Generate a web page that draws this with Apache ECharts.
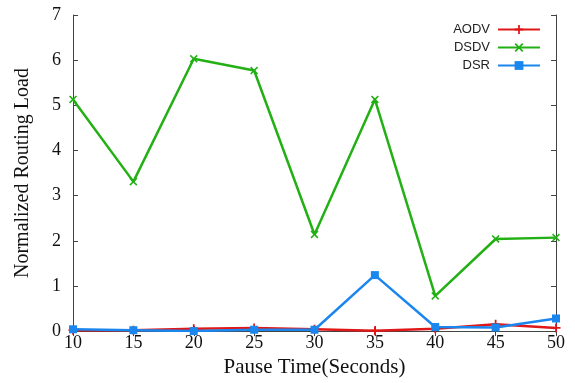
<!DOCTYPE html>
<html><head><meta charset="utf-8">
<script src="https://cdn.jsdelivr.net/npm/echarts@6/dist/echarts.min.js"></script>
<style>html,body{margin:0;padding:0;background:#fff}#c{width:575px;height:383px}</style>
</head><body><div id="c"></div>
<script>
var pauseTimes = [10, 15, 20, 25, 30, 35, 40, 45, 50];
var aodv = [0.02, 0.02, 0.05, 0.07, 0.04, 0.01, 0.05, 0.15, 0.07];
var dsdv = [5.13, 3.31, 6.03, 5.77, 2.14, 5.13, 0.78, 2.04, 2.07];
var dsr  = [0.04, 0.02, 0.00, 0.03, 0.03, 1.24, 0.09, 0.08, 0.28];
var yTicks = [0, 1, 2, 3, 4, 5, 6, 7];

function pts(v){ return pauseTimes.map(function(x,i){return [x, v[i]];}); }
var plusPath = 'path://M4,0h2v4h4v2h-4v4h-2v-4h-4v-2h4z';
var crossPath = 'path://M1.4,0L5,3.6L8.6,0L10,1.4L6.4,5L10,8.6L8.6,10L5,6.4L1.4,10L0,8.6L3.6,5L0,1.4z';
var serif = '"Liberation Serif","DejaVu Serif",serif';

var chart = echarts.init(document.getElementById('c'));
chart.setOption({
  animation: false,
  grid: {left: 73, right: 19, top: 15, bottom: 50, containLabel: false},
  legend: {
    right: 29, top: 18, orient: 'vertical', align: 'right',
    itemWidth: 42, itemHeight: 11, itemGap: 5,
    textStyle: {fontFamily: '"Liberation Sans",Arial,sans-serif', fontSize: 13, lineHeight: 11, color: '#222', padding: [0,3,0,0]},
    data: ['AODV', 'DSDV', 'DSR']
  },
  xAxis: [{
    type: 'value', min: 10, max: 50, interval: 5,
    name: 'Pause Time(Seconds)', nameLocation: 'middle', nameGap: 25,
    nameTextStyle: {fontFamily: serif, fontSize: 21, color: '#111'},
    axisLine: {lineStyle: {color: '#444', width: 1}},
    axisTick: {inside: true, length: 5, lineStyle: {color: '#444'}},
    axisLabel: {fontFamily: serif, fontSize: 18, color: '#111', margin: 3},
    splitLine: {show: false}
  }, {
    type: 'value', min: 10, max: 50, interval: 5, position: 'top',
    axisLine: {show: true, lineStyle: {color: '#444', width: 1}},
    axisTick: {inside: true, length: 5, lineStyle: {color: '#444'}},
    axisLabel: {show: false}, splitLine: {show: false}
  }],
  yAxis: [{
    type: 'value', min: 0, max: 7, interval: 1,
    name: 'Normalized Routing Load', nameLocation: 'middle', nameGap: 40,
    nameTextStyle: {fontFamily: serif, fontSize: 20, color: '#111'},
    axisLine: {show: true, lineStyle: {color: '#444', width: 1}},
    axisTick: {show: true, inside: true, length: 5, lineStyle: {color: '#444'}},
    axisLabel: {fontFamily: serif, fontSize: 18, color: '#111', margin: 12,
      formatter: function(v){ return yTicks.indexOf(v) >= 0 ? String(v) : ''; }},
    splitLine: {show: false}
  }, {
    type: 'value', min: 0, max: 7, interval: 1, position: 'right',
    axisLine: {show: true, lineStyle: {color: '#444', width: 1}},
    axisTick: {show: true, inside: true, length: 5, lineStyle: {color: '#444'}},
    axisLabel: {show: false}, splitLine: {show: false}
  }],
  series: [{
    name: 'AODV', type: 'line', data: pts(aodv), z: 3,
    symbol: plusPath, symbolSize: 9, showAllSymbol: true,
    lineStyle: {color: '#e01818', width: 2.5}, itemStyle: {color: '#e01818'}
  }, {
    name: 'DSDV', type: 'line', data: pts(dsdv), z: 2,
    symbol: crossPath, symbolSize: 8,
    lineStyle: {color: '#22b014', width: 2.5}, itemStyle: {color: '#22b014'}
  }, {
    name: 'DSR', type: 'line', data: pts(dsr), z: 4,
    symbol: 'rect', symbolSize: 8,
    lineStyle: {color: '#1a86ee', width: 2.5}, itemStyle: {color: '#1a86ee'}
  }]
});
</script></body></html>
